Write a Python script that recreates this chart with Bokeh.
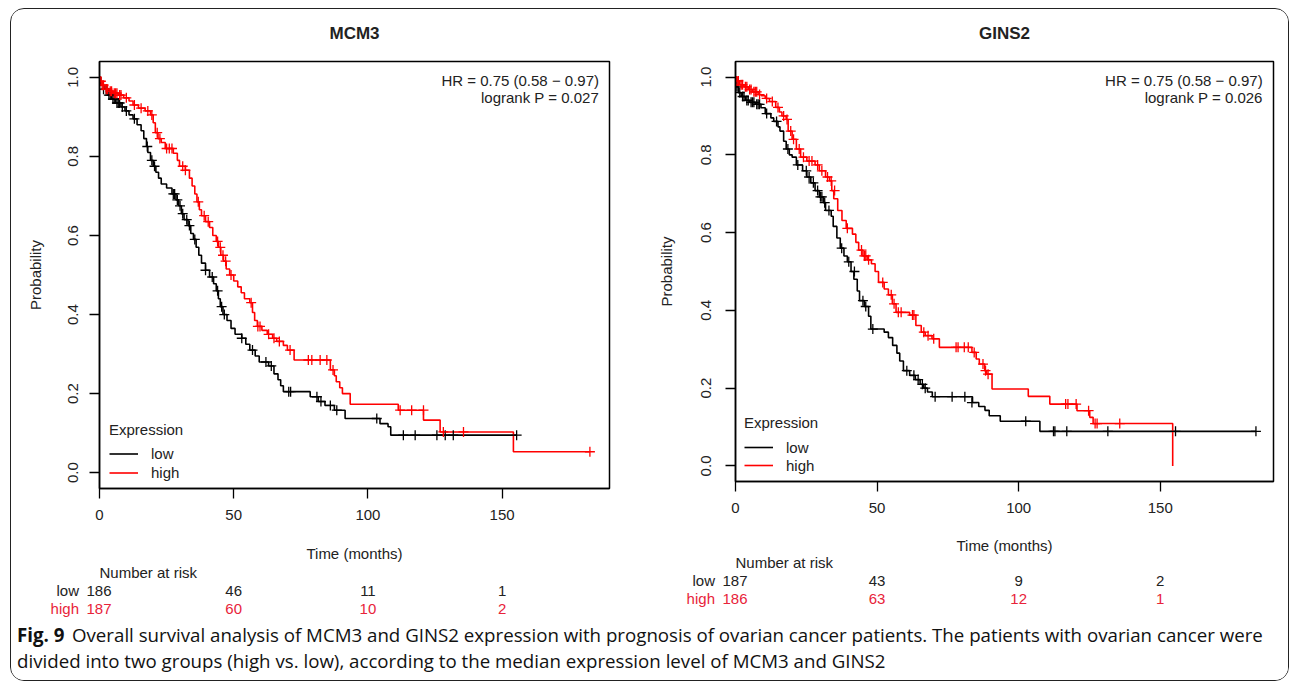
from bokeh.plotting import figure
from bokeh.models import (FixedTicker, PrintfTickFormatter, Legend, LegendItem, Range1d)
from bokeh.layouts import column, row
from bokeh.embed import file_html
from bokeh.resources import INLINE
from bokeh.core.properties import value

# ---------------- data ----------------
# MCM3 panel
mcm3_low_t = [0, 0.5, 1.5, 3, 4.5, 6, 8, 9.5, 11, 12.5, 14, 15.5, 16.5, 17.5, 18, 19, 20, 21, 22, 23, 25, 27,
              28.5, 29.5, 30.5, 31.5, 33, 34, 35, 36, 37, 38, 39.5, 41, 42.5, 43.5, 44.3, 45, 46, 47.5, 49,
              50.5, 53, 54.5, 56, 58, 59.5, 63, 65, 66.5, 67.5, 68.5, 78.5, 81.5, 84, 87.5, 91.5, 104.5,
              107.5, 108.5, 155.4]
mcm3_low_s = [1.0, 0.98, 0.97, 0.955, 0.945, 0.935, 0.925, 0.915, 0.905, 0.895, 0.88, 0.865, 0.845, 0.825, 0.81,
              0.79, 0.775, 0.76, 0.745, 0.73, 0.72, 0.705, 0.69, 0.675, 0.655, 0.64, 0.625, 0.605, 0.59, 0.57,
              0.55, 0.53, 0.512, 0.495, 0.478, 0.46, 0.44, 0.42, 0.40, 0.385, 0.365, 0.35, 0.34, 0.325, 0.31,
              0.295, 0.28, 0.27, 0.25, 0.235, 0.22, 0.205, 0.192, 0.18, 0.17, 0.158, 0.137, 0.124, 0.116,
              0.095, 0.095]
mcm3_low_cens_t = [1.5, 2.5, 3.5, 4, 5, 5.5, 6.5, 7, 7.5, 8.5, 10, 13, 17.8, 19.5, 20.5, 27.5, 28, 29, 30, 31,
                   32.5, 33.5, 35.5, 39.5, 42, 44, 45.5, 46.5, 53, 57, 62, 64, 70.5, 71.2, 81, 82.5, 86, 88.4,
                   103.3, 113.2, 117.6, 125.7, 128.8, 131.8, 155.4]
mcm3_low_cens_s = [0.97, 0.97, 0.955, 0.955, 0.945, 0.945, 0.935, 0.935, 0.935, 0.925, 0.915, 0.895, 0.825,
                   0.79, 0.775, 0.705, 0.705, 0.69, 0.675, 0.655, 0.64, 0.625, 0.59, 0.512, 0.495, 0.46, 0.42,
                   0.40, 0.34, 0.31, 0.28, 0.27, 0.205, 0.205, 0.192, 0.18, 0.17, 0.158, 0.137, 0.095, 0.095,
                   0.095, 0.095, 0.095, 0.095]
mcm3_high_t = [0, 0.5, 1, 2, 3.5, 5, 7, 9, 11, 12.5, 14.5, 17, 19, 20, 20.8, 21.8, 23, 24.5, 27.5, 29, 29.8,
               32, 33.5, 34.5, 35.5, 36.3, 37.2, 38, 39.5, 41, 42.2, 43.5, 44.3, 45.2, 46.2, 47.2, 48.5, 50,
               51.5, 52.8, 54, 56, 57, 57.8, 58.8, 60.5, 62.5, 64.5, 66, 68.5, 70, 72.5, 86, 87.5, 88.2, 89.5,
               90.5, 93.4, 111.3, 120.7, 126.9, 154.2, 182.7]
mcm3_high_s = [1.0, 0.99, 0.98, 0.97, 0.965, 0.96, 0.955, 0.948, 0.94, 0.93, 0.922, 0.915, 0.905, 0.885, 0.86,
               0.845, 0.835, 0.82, 0.808, 0.79, 0.775, 0.765, 0.745, 0.725, 0.705, 0.685, 0.665, 0.65, 0.635,
               0.62, 0.6, 0.585, 0.57, 0.55, 0.535, 0.515, 0.5, 0.485, 0.47, 0.455, 0.44, 0.43, 0.405, 0.385,
               0.37, 0.36, 0.35, 0.34, 0.332, 0.322, 0.31, 0.285, 0.26, 0.245, 0.23, 0.215, 0.2, 0.173, 0.158,
               0.133, 0.103, 0.053, 0.053]
mcm3_high_cens_t = [0.5, 1, 1.5, 2.5, 3, 4, 4.5, 5.5, 6, 6.5, 7.5, 8, 10, 13, 15.5, 18, 19.5, 21.5, 22.5, 25,
                    26, 27, 31, 32, 36.8, 39, 40.5, 44, 45, 46, 47, 49, 56.5, 59, 59.8, 63, 65, 67, 71, 77.8,
                    79.1, 82.2, 84.7, 87, 112, 116.3, 120.7, 128.1, 135.6, 182.7]
mcm3_high_cens_s = [0.99, 0.98, 0.98, 0.97, 0.97, 0.965, 0.965, 0.96, 0.96, 0.96, 0.955, 0.955, 0.948, 0.93,
                    0.922, 0.915, 0.905, 0.86, 0.845, 0.82, 0.82, 0.82, 0.775, 0.765, 0.685, 0.65, 0.635, 0.585,
                    0.57, 0.55, 0.535, 0.5, 0.43, 0.37, 0.37, 0.35, 0.34, 0.332, 0.31, 0.285, 0.285, 0.285,
                    0.285, 0.26, 0.158, 0.158, 0.158, 0.103, 0.103, 0.053]

# GINS2 panel
gins2_low_t = [0, 0.3, 1, 2, 3.5, 5, 7, 9, 10.5, 12.5, 13.5, 15, 15.7, 17, 17.9, 19, 20, 21.5, 23.7, 25.2,
               26.6, 28.1, 29.6, 31, 31.8, 33.8, 34.5, 35.8, 37, 38.3, 39.5, 40.8, 41.8, 43, 43.8, 45.5, 47,
               47.8, 52.5, 54, 55.5, 57, 58, 59.3, 61.5, 63.5, 65.2, 66.5, 67.8, 69.5, 83.7, 85.9, 88.1, 89.6,
               93.5, 107.5, 183.8]
gins2_low_s = [1.0, 0.975, 0.96, 0.95, 0.94, 0.935, 0.93, 0.921, 0.906, 0.895, 0.886, 0.872, 0.861, 0.835,
               0.815, 0.8, 0.794, 0.774, 0.759, 0.743, 0.728, 0.708, 0.692, 0.677, 0.657, 0.642, 0.616, 0.586,
               0.56, 0.54, 0.525, 0.5, 0.48, 0.45, 0.425, 0.41, 0.385, 0.352, 0.344, 0.33, 0.31, 0.29, 0.27,
               0.245, 0.233, 0.222, 0.21, 0.2, 0.19, 0.178, 0.163, 0.153, 0.143, 0.129, 0.115, 0.089, 0.089]
gins2_low_cens_t = [0.5, 1.5, 2.5, 3, 4, 4.5, 5.5, 6, 6.5, 7.5, 8, 8.5, 11, 14.5, 18.5, 22, 25, 26, 27.5, 29,
                    30, 30.5, 31.5, 33, 37.5, 40, 42, 45, 46, 48.5, 60.5, 63, 64.5, 66, 67, 70.5, 76.5, 81,
                    83.5, 102.5, 112.3, 112.8, 117, 131.5, 155.4, 183.8]
gins2_low_cens_s = [0.975, 0.96, 0.95, 0.95, 0.94, 0.94, 0.935, 0.935, 0.935, 0.93, 0.93, 0.93, 0.906, 0.886,
                    0.815, 0.774, 0.759, 0.743, 0.728, 0.708, 0.692, 0.692, 0.677, 0.657, 0.56, 0.525, 0.5,
                    0.425, 0.41, 0.352, 0.245, 0.233, 0.222, 0.21, 0.2, 0.178, 0.178, 0.178, 0.163, 0.115,
                    0.089, 0.089, 0.089, 0.089, 0.089, 0.089]
gins2_high_t = [0, 0.5, 1.5, 3, 4.5, 6, 8, 9.1, 10.5, 12, 14.2, 15.5, 16.4, 17.9, 18.6, 20, 21.5, 23, 25.2,
                28.1, 29.6, 31.8, 33.2, 34, 34.7, 36.1, 37.6, 39.1, 41.3, 42.5, 43.5, 45, 46.5, 48, 49.3, 50.5,
                52.5, 54, 55.4, 56.7, 61.5, 63.7, 65.6, 67, 69.4, 72, 83.5, 85, 86.1, 88, 88.7, 90.6, 103.4,
                111, 120.6, 125.1, 126.3, 154.4]
gins2_high_s = [1.0, 0.99, 0.98, 0.975, 0.968, 0.962, 0.955, 0.952, 0.945, 0.937, 0.922, 0.91, 0.9, 0.891,
                0.861, 0.84, 0.815, 0.794, 0.784, 0.774, 0.759, 0.743, 0.733, 0.708, 0.687, 0.657, 0.631, 0.611,
                0.596, 0.575, 0.555, 0.54, 0.53, 0.52, 0.5, 0.472, 0.455, 0.44, 0.417, 0.395, 0.388, 0.361,
                0.344, 0.335, 0.327, 0.305, 0.292, 0.275, 0.262, 0.245, 0.236, 0.198, 0.179, 0.159, 0.142,
                0.125, 0.109, 0.0]
gins2_high_cens_t = [0.5, 1, 2, 2.5, 3.5, 4, 5, 5.5, 6.5, 7, 7.5, 8.5, 11, 13, 15, 17, 18.2, 19.5, 20.5, 22.5,
                     24, 26, 27, 29, 30.5, 32.5, 33.8, 35, 39.5, 44.5, 45.5, 46, 47, 52, 55, 56, 57.5, 58.5,
                     62.5, 63, 66.5, 68, 70, 77.9, 78.6, 80.8, 82.2, 84.3, 87.4, 88.3, 89.2, 116.6, 117.4,
                     120.3, 124.7, 127, 127.7, 135.7]
gins2_high_cens_s = [0.99, 0.99, 0.98, 0.98, 0.975, 0.975, 0.968, 0.968, 0.962, 0.962, 0.962, 0.955, 0.945,
                     0.937, 0.922, 0.9, 0.891, 0.861, 0.84, 0.815, 0.794, 0.784, 0.784, 0.774, 0.759, 0.743,
                     0.733, 0.708, 0.611, 0.555, 0.54, 0.54, 0.53, 0.472, 0.44, 0.417, 0.395, 0.395, 0.388,
                     0.388, 0.344, 0.335, 0.327, 0.305, 0.305, 0.305, 0.305, 0.292, 0.262, 0.245, 0.236,
                     0.159, 0.159, 0.159, 0.142, 0.109, 0.109, 0.109]

x_ticks = [0, 50, 100, 150]
y_ticks = [0.0, 0.2, 0.4, 0.6, 0.8, 1.0]
risk_times = [0, 50, 100, 150]
mcm3_risk_low = ["186", "46", "11", "1"]
mcm3_risk_high = ["187", "60", "10", "2"]
gins2_risk_low = ["187", "43", "9", "2"]
gins2_risk_high = ["186", "63", "12", "1"]
group_names = ["low", "high"]

FONT = "Liberation Sans"
TXT = "#222222"
RED = "#ff0000"
RED_TXT = "#e8233a"
FS = "15px"

X_END = 190
Y_START, Y_END = -0.04, 1.04
TTH = 50   # title strip height
PH = 470   # plot figure height


def blank_fig(W, fl, fw, h):
    f = figure(width=W, height=h, output_backend="svg", toolbar_location=None,
               x_range=Range1d(0, X_END), y_range=Range1d(h, 0),
               min_border_left=fl, min_border_right=W - fl - fw,
               min_border_top=0, min_border_bottom=0)
    f.grid.visible = False
    f.xaxis.visible = False
    f.outline_line_color = None
    f.background_fill_color = "white"
    f.border_fill_color = "white"
    return f


def make_panel(title, lt, ls, lct, lcs, ht, hs, hct, hcs, hr, pval, risk_low, risk_high, g):
    W = g["W"]
    fl, ft, fw, fh = g["fl"], g["ft"], g["fw"], g["fh"]

    # title strip
    tfig = blank_fig(W, fl, fw, TTH)
    tfig.yaxis.visible = False
    tfig.text(x=[X_END / 2], y=[g["title_y"]], text=[title], text_align="center", text_baseline="middle",
              text_font=value(FONT), text_font_size=value("17px"), text_font_style="bold",
              text_color=TXT)

    p = figure(width=W, height=PH, output_backend="svg", toolbar_location=None,
               x_range=Range1d(0, X_END), y_range=Range1d(Y_START, Y_END),
               min_border_left=fl, min_border_top=ft,
               min_border_right=W - fl - fw, min_border_bottom=PH - ft - fh)
    p.grid.visible = False
    p.outline_line_color = "black"
    p.outline_line_width = 1.5
    p.outline_line_alpha = 1.0
    p.background_fill_color = "white"
    p.border_fill_color = "white"

    ppx = fw / X_END
    ppy = fh / (Y_END - Y_START)

    def dx(px):
        return (px - fl) / ppx

    def dy(py):
        return Y_END - (py - ft) / ppy

    for ax in (p.xaxis[0], p.yaxis[0]):
        ax.axis_line_color = "black"
        ax.axis_line_width = 1.5
        ax.major_tick_line_color = "black"
        ax.major_tick_line_width = 1.3
        ax.major_tick_out = 10
        ax.major_tick_in = 0
        ax.minor_tick_line_color = None
        ax.major_label_text_font = FONT
        ax.major_label_text_font_size = FS
        ax.major_label_text_color = TXT
        ax.axis_label_text_font = FONT
        ax.axis_label_text_font_size = FS
        ax.axis_label_text_font_style = "normal"
        ax.axis_label_text_color = TXT
    p.xaxis.ticker = FixedTicker(ticks=x_ticks)
    p.yaxis.ticker = FixedTicker(ticks=y_ticks)
    p.yaxis.formatter = PrintfTickFormatter(format="%.1f")
    p.yaxis.major_label_orientation = "vertical"
    p.xaxis.major_label_standoff = 11
    p.yaxis.major_label_standoff = g["yls"]
    p.yaxis.axis_label = "Probability"
    p.yaxis.axis_label_standoff = g["yas"]

    r_low = p.step(lt, ls, mode="after", line_color="black", line_width=1.6)
    r_high = p.step(ht, hs, mode="after", line_color=RED, line_width=1.6)
    p.scatter(lct, lcs, marker="cross", size=10, line_color="black", line_width=1.3)
    p.scatter(hct, hcs, marker="cross", size=10, line_color=RED, line_width=1.3)

    leg = Legend(items=[LegendItem(label=group_names[0], renderers=[r_low]),
                        LegendItem(label=group_names[1], renderers=[r_high])],
                 title="Expression", location=g["leg_loc"], orientation="vertical",
                 border_line_alpha=0, background_fill_alpha=0, padding=2, margin=0,
                 spacing=0, label_height=g["lh"], glyph_height=g["lh"], glyph_width=29,
                 label_standoff=13, title_standoff=g["ts"],
                 label_text_font=FONT, label_text_font_size=FS, label_text_color=TXT,
                 title_text_font=FONT, title_text_font_size=FS, title_text_font_style="normal",
                 title_text_color=TXT)
    p.add_layout(leg)

    p.text(x=[dx(g["hr_x"])] * 2, y=[dy(g["hr_y"]), dy(g["hr_y"] + 17.4)], text=[hr, pval],
           text_align="right", text_baseline="middle", text_font=value(FONT),
           text_font_size=value(FS), text_color=TXT)

    # number-at-risk table, built from small figures aligned on the same x scale
    tb = g["tab"]
    head = blank_fig(W, fl, fw, tb["h0"])
    head.yaxis.visible = False
    head.text(x=[X_END / 2], y=[tb["time"]], text=["Time (months)"], text_align="center",
              text_baseline="middle", text_font=value(FONT), text_font_size=value(FS), text_color=TXT)
    head.text(x=[0], y=[tb["nar"]], text=["Number at risk"], text_align="left",
              text_baseline="middle", text_font=value(FONT), text_font_size=value(FS), text_color=TXT)
    rows = [tfig, p, head]
    for name, vals, col, h in ((group_names[0], risk_low, TXT, tb["h1"]),
                               (group_names[1], risk_high, RED_TXT, tb["h2"])):
        f = blank_fig(W, fl, fw, h)
        yc = 9
        ya = f.yaxis[0]
        ya.ticker = FixedTicker(ticks=[yc])
        # row name plus the count at time 0 (which straddles the frame edge)
        ya.major_label_overrides = {yc: name + "\u2002" + vals[0]}
        ya.major_label_orientation = "horizontal"
        ya.major_label_text_font = FONT
        ya.major_label_text_font_size = FS
        ya.major_label_text_color = col
        ya.major_label_standoff = -12
        ya.axis_line_color = None
        ya.major_tick_line_color = None
        ya.minor_tick_line_color = None
        ya.major_tick_out = 0
        ya.major_tick_in = 0
        f.text(x=risk_times[1:], y=[yc] * (len(risk_times) - 1), text=vals[1:], text_align="center",
               text_baseline="middle", text_font=value(FONT), text_font_size=value(FS), text_color=col)
        rows.append(f)
    return column(*rows, spacing=0)


# panel geometry (pixels within each panel's figures)
geo_left = dict(W=629, fl=88, ft=2, fw=510, fh=427, title_y=23.5, yls=11, yas=22,
                leg_loc=(8, 4), lh=19, ts=6,
                hr_x=587.5, hr_y=21,
                tab=dict(h0=52, h1=18, h2=22, time=23.5, nar=42.5))
geo_right = dict(W=648, fl=95, ft=2, fw=538, fh=420, title_y=23.5, yls=14, yas=24,
                 leg_loc=(7, 5), lh=18, ts=7,
                 hr_x=622.2, hr_y=21,
                 tab=dict(h0=42, h1=18, h2=32, time=15.5, nar=32.5))

left = make_panel("MCM3", mcm3_low_t, mcm3_low_s, mcm3_low_cens_t, mcm3_low_cens_s,
                  mcm3_high_t, mcm3_high_s, mcm3_high_cens_t, mcm3_high_cens_s,
                  "HR = 0.75 (0.58 \u2212 0.97)", "logrank P = 0.027",
                  mcm3_risk_low, mcm3_risk_high, geo_left)
right = make_panel("GINS2", gins2_low_t, gins2_low_s, gins2_low_cens_t, gins2_low_cens_s,
                   gins2_high_t, gins2_high_s, gins2_high_cens_t, gins2_high_cens_s,
                   "HR = 0.75 (0.58 \u2212 0.97)", "logrank P = 0.026",
                   gins2_risk_low, gins2_risk_high, geo_right)

# caption
CW, CH = 1277, 59
cap = figure(width=CW, height=CH, output_backend="svg", toolbar_location=None,
             x_range=Range1d(0, CW), y_range=Range1d(CH, 0),
             min_border=0, min_border_left=0, min_border_right=0, min_border_top=0, min_border_bottom=0)
cap.axis.visible = False
cap.grid.visible = False
cap.outline_line_color = None
cap.background_fill_color = "white"
cap.border_fill_color = "white"
CFONT = "Open Sans"
CFS = "18.7px"
cap.text(x=[5.5], y=[12.5], text=["Fig. 9"], text_font=value(CFONT), text_font_size=value(CFS),
         text_font_style="bold", text_baseline="middle", text_color="#111111")
cap.text(x=[60.5, 5.5], y=[12.5, 38.5],
         text=["Overall survival analysis of MCM3 and GINS2 expression with prognosis of "
               "ovarian cancer patients. The patients with ovarian cancer were",
               "divided into two groups (high vs. low), according to the median "
               "expression level of MCM3 and GINS2"],
         text_font=value(CFONT), text_font_size=value(CFS), text_baseline="middle", text_color="#111111")

layout = column(row(left, right, spacing=0), cap, spacing=0, margin=(8, 0, 0, 10),
                styles={"border": "1.5px solid #222222", "border-radius": "14px", "overflow": "hidden"})

open("out.html", "w").write(file_html(layout, INLINE))
